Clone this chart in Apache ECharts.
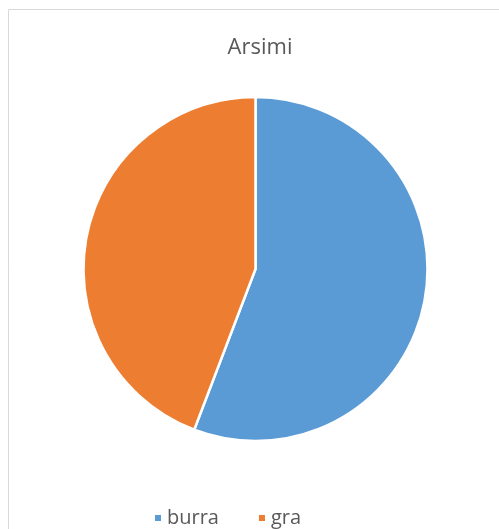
<!DOCTYPE html>
<html>
<head>
<meta charset="utf-8">
<script src="https://cdn.jsdelivr.net/npm/echarts@6/dist/echarts.min.js"></script>
<style>
  html, body { margin: 0; padding: 0; background: #fff; }
  #chart { width: 499px; height: 529px; }
</style>
</head>
<body>
<div id="chart"></div>
<script>
// data
var categories = ["burra", "gra"];
var values = [55.8, 44.2];
var colors = ["#5B9BD5", "#ED7D31"];

var chart = echarts.init(document.getElementById("chart"));
chart.setOption({
  animation: false,
  title: {
    text: "Arsimi",
    left: 255,
    top: 32,
    textAlign: "center",
    textStyle: { fontFamily: "Open Sans", fontSize: 22, fontWeight: "normal", color: "#595959" }
  },
  // chart area frame
  graphic: [{
    type: "rect",
    shape: { x: 8.5, y: 9.5, width: 520, height: 540 },
    style: { fill: "none", stroke: "#d9d9d9", lineWidth: 1 }
  }],
  legend: {
    data: categories,
    top: 503,
    left: 148,
    itemWidth: 8,
    itemHeight: 8,
    itemGap: 38,
    icon: "rect",
    textStyle: { fontFamily: "Open Sans", fontSize: 20, color: "#595959" }
  },
  series: [{
    type: "pie",
    center: [255.5, 269],
    radius: [0, 172],
    startAngle: 90,
    clockwise: true,
    label: { show: false },
    labelLine: { show: false },
    itemStyle: { borderColor: "#fff", borderWidth: 2.5 },
    data: categories.map(function (c, i) {
      return { name: c, value: values[i], itemStyle: { color: colors[i] } };
    })
  }]
});
</script>
</body>
</html>
